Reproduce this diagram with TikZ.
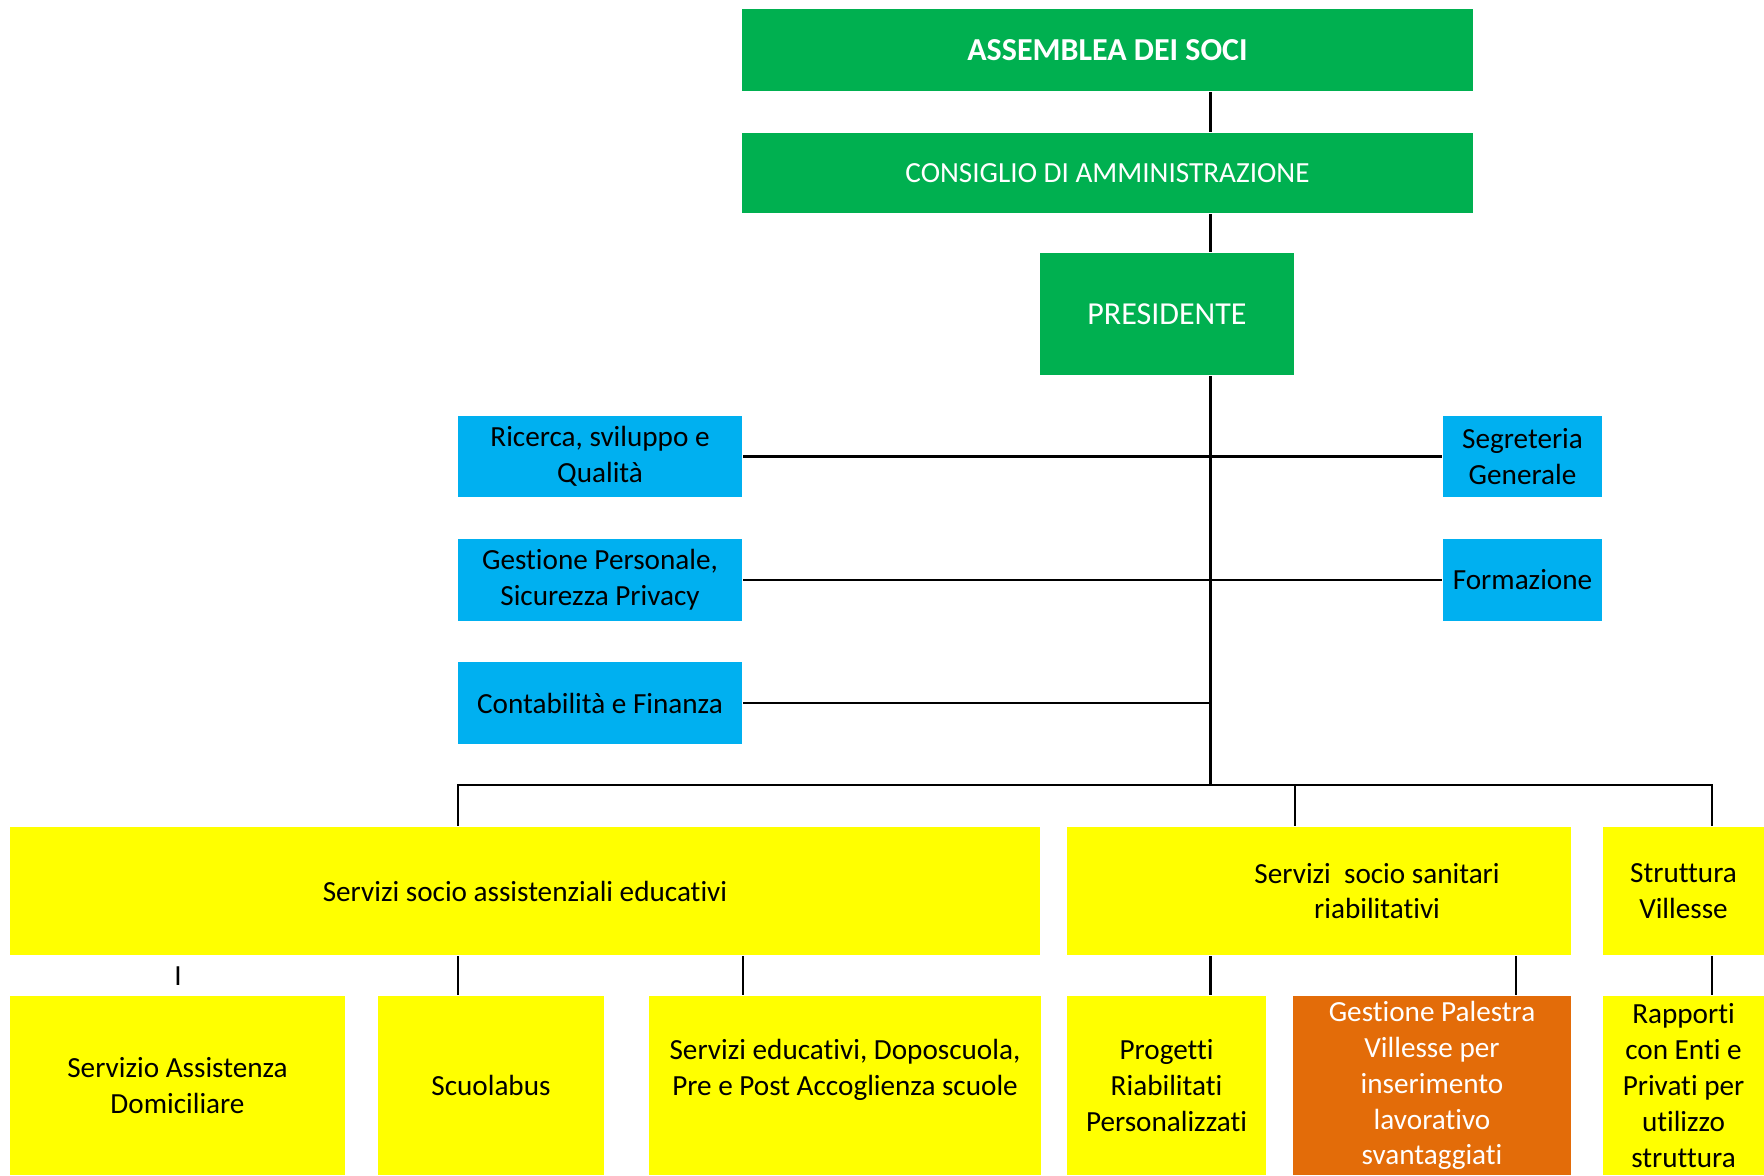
\documentclass[tikz,border=0pt]{standalone}
\usepackage{fontspec}
\setmainfont{Carlito}[Ligatures=NoCommon]
\usetikzlibrary{positioning}
\definecolor{orggreen}{HTML}{00B050}
\definecolor{orgblue}{HTML}{00B0F0}
\definecolor{orgyellow}{HTML}{FFFF00}
\definecolor{orgorange}{HTML}{E36C09}

\begin{document}
\begin{tikzpicture}[x=0.01cm,y=-0.01cm,line width=0.6pt,
  box/.style={inner sep=0pt,align=center,font=\fontsize{8.3}{10.2}\selectfont},
  bigtext/.style={font=\fontsize{9.1}{11}\selectfont},
  greenbox/.style={box,fill=orggreen,text=white},
  bluebox/.style={box,fill=orgblue,minimum height=0.815cm},
  yellowbox/.style={box,fill=orgyellow},
  orangebox/.style={box,fill=orgorange,text=white}]
  \useasboundingbox (0,0) rectangle (1764,1176);
  \node[greenbox,bigtext,minimum width=7.3cm,minimum height=0.82cm] (ass) at (1107.5,50)
    {\textbf{ASSEMBLEA DEI SOCI}};
  \node[greenbox,minimum width=7.3cm,minimum height=0.8cm] (cda) at (1107.5,173)
    {CONSIGLIO DI AMMINISTRAZIONE};
  \node[greenbox,bigtext,minimum width=2.53cm,minimum height=1.22cm] (pres) at (1167,314)
    {PRESIDENTE};
  \node[bluebox,minimum width=2.845cm] (ric) at (600,456.5) {Ricerca, sviluppo e\\Qualità};
  \node[bluebox,minimum width=2.845cm] (gest) at (600,580) {Gestione Personale,\\Sicurezza Privacy};
  \node[bluebox,minimum width=2.845cm] (cont) at (600,703) {Contabilità e Finanza};
  \node[bluebox,minimum width=1.59cm] (seg) at (1522.5,456.5) {Segreteria\\Generale};
  \node[bluebox,minimum width=1.59cm] (form) at (1522.5,580) {Formazione};
  \node[yellowbox,minimum width=10.3cm,minimum height=1.28cm] (ssa) at (525,891)
    {Servizi socio assistenziali educativi};
  \node[yellowbox,minimum width=5.03cm,minimum height=1.28cm] (sss) at (1319,891)
    {\hspace*{1.16cm}Servizi\ \ socio sanitari\\\hspace*{1.16cm}riabilitativi};
  \node[yellowbox,minimum width=1.61cm,minimum height=1.28cm] (sv) at (1683.5,891)
    {Struttura\\Villesse};
  \node[box] (tick) at (178,976) {I};
  \node[yellowbox,minimum width=3.35cm,minimum height=1.79cm] (sad) at (177.5,1085.5)
    {Servizio Assistenza\\Domiciliare};
  \node[yellowbox,minimum width=2.26cm,minimum height=1.79cm] (scb) at (491,1085.5)
    {Scuolabus};
  \node[yellowbox,minimum width=3.92cm,minimum height=1.79cm] (sed) at (845,1085.5)
    {Servizi educativi, Doposcuola,\\Pre e Post Accoglienza scuole\\\mbox{}};
  \node[yellowbox,minimum width=1.98cm,minimum height=1.79cm] (prp) at (1166.5,1085.5)
    {Progetti\\Riabilitati\\Personalizzati};
  \node[orangebox,minimum width=2.77cm,minimum height=1.79cm] (gpv) at (1432,1085.5)
    {Gestione Palestra\\Villesse per\\inserimento\\lavorativo\\svantaggiati};
  \node[yellowbox,minimum width=1.61cm,minimum height=1.79cm] (rap) at (1683.5,1085.5)
    {Rapporti\\con Enti e\\Privati per\\utilizzo\\struttura};
  \coordinate (trunk) at (1210.5,785);
  \coordinate (busL) at (458,785);
  \coordinate (busR) at (1712,785);
  \coordinate (gx) at (1516,785);
  \draw (ass.south -| trunk) -- (cda.north -| trunk);
  \draw (cda.south -| trunk) -- (pres.north -| trunk);
  \draw (pres.south -| trunk) -- (trunk);
  \draw (ric) -- (seg);
  \draw (gest) -- (form);
  \draw (cont) -- (cont -| trunk);
  \draw (busL |- ssa.north) -- (busL) -- (busR) -- (busR |- sv.north);
  \draw (pres.east |- trunk) -- (pres.east |- sss.north);
  \draw (busL |- ssa.south) -- (busL |- scb.north);
  \draw (ric.east |- ssa.south) -- (ric.east |- sed.north);
  \draw (trunk |- sss.south) -- (trunk |- prp.north);
  \draw (gx |- sss.south) -- (gx |- gpv.north);
  \draw (busR |- sv.south) -- (busR |- rap.north);
\end{tikzpicture}
\end{document}
